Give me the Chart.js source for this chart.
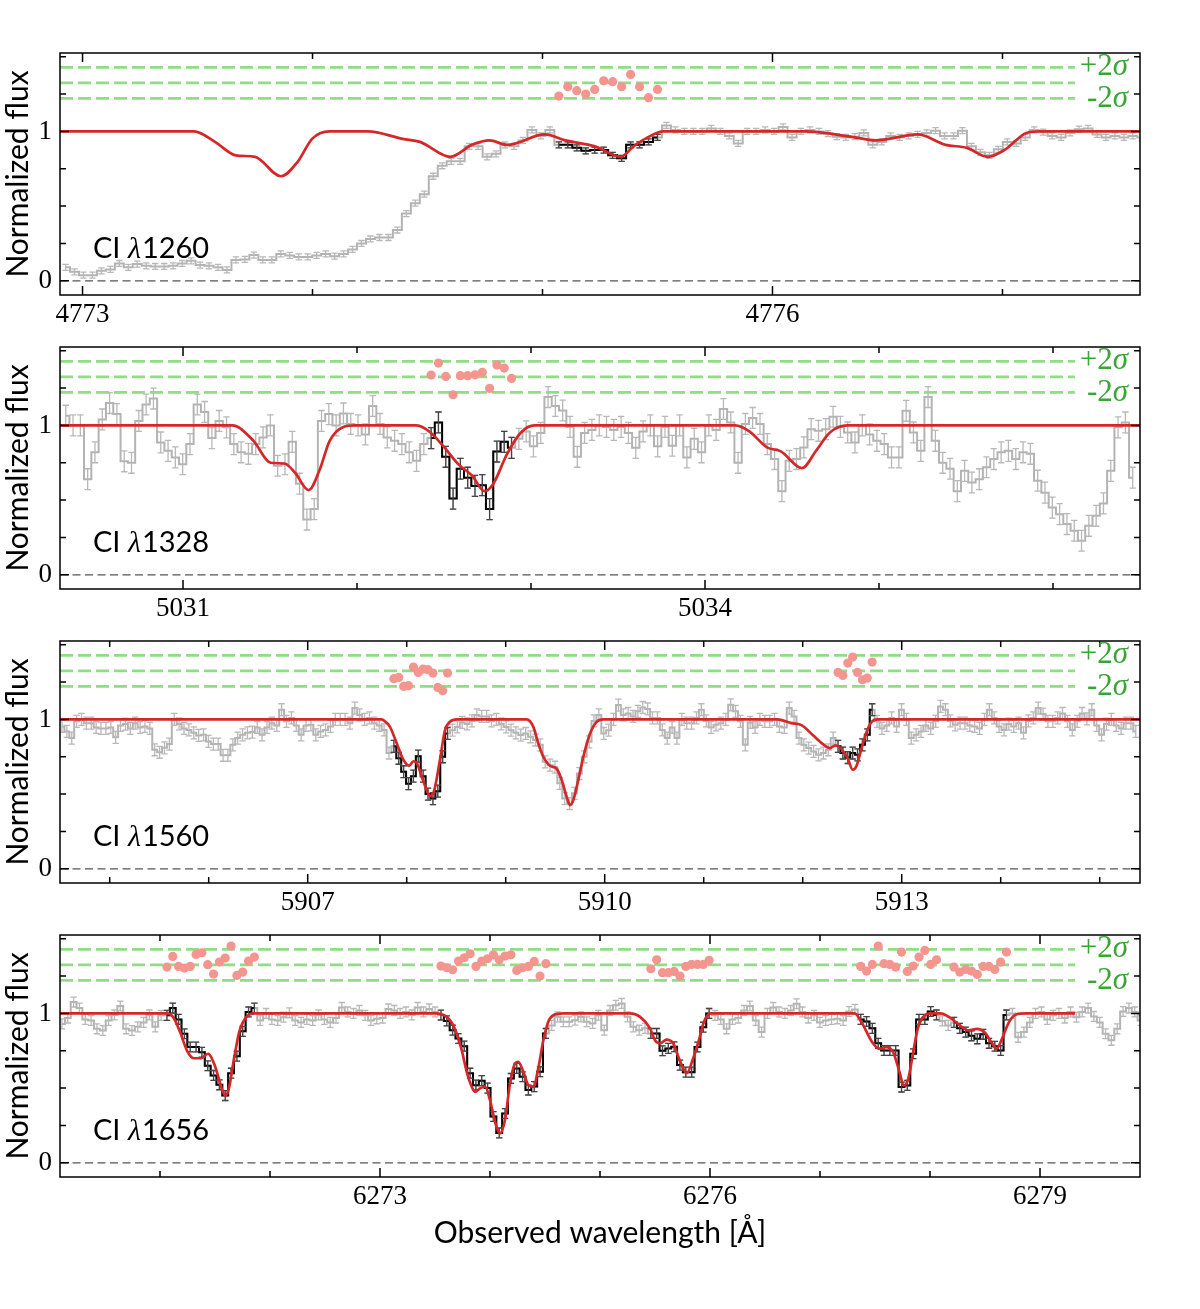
<!DOCTYPE html>
<html lang="en">
<head>
  <meta charset="UTF-8" />
  <title>CI absorption lines</title>
  <script src="https://cdn.jsdelivr.net/npm/chart.js"></script>
  <style>
    body { margin: 0; background: #fff; }
    #page { position: relative; width: 1200px; height: 1309px; }
    .panel { position: absolute; left: 0; width: 1200px; }
  </style>
</head>
<body>
  <div id="page">
    <div class="panel" style="top:40px;height:294px"><canvas id="c1"></canvas></div>
    <div class="panel" style="top:334px;height:294px"><canvas id="c2"></canvas></div>
    <div class="panel" style="top:628px;height:294px"><canvas id="c3"></canvas></div>
    <div class="panel" style="top:922px;height:387px"><canvas id="c4"></canvas></div>
  </div>

  <script>
    // residual strip: centre and 1 sigma (in flux units)
    const RES_CENTER = 1.325;
    const RES_SIGMA = 0.052;
    const Y_RANGE = [-0.095, 1.525];

    // ---------- CI 1260 ----------
    const p1Range = [4772.902, 4777.598];
    const p1WaveStart = 4772.926, p1WaveStep = 0.039;
    const p1Flux = [
      0.09, 0.06, 0.038, 0.038, 0.067, 0.076, 0.116, 0.09, 0.112, 0.1,
      0.096, 0.096, 0.1, 0.116, 0.134, 0.105, 0.1, 0.09, 0.073, 0.14,
      0.143, 0.172, 0.14, 0.14, 0.18, 0.17, 0.16, 0.16, 0.17, 0.18,
      0.165, 0.18, 0.21, 0.25, 0.28, 0.29, 0.29, 0.34, 0.45, 0.52,
      0.58, 0.70, 0.77, 0.80, 0.80, 0.90, 0.90, 0.83, 0.85, 0.91,
      0.90, 0.94, 1.01, 0.97, 1.01,
      0.91, 0.91, 0.89, 0.87, 0.875, 0.875, 0.84, 0.82, 0.91, 0.91, 0.93, 0.96,
      1.04, 1.01, 1.00, 1.00, 1.00, 1.02, 1.00, 0.97, 0.92, 1.00,
      1.00, 1.01, 1.00, 1.03, 0.96, 1.00, 1.01, 1.00, 0.985, 0.965,
      0.96, 0.965, 0.99, 0.91, 0.93, 0.97, 0.96, 0.97, 0.98, 0.99,
      1.005, 0.97, 0.97, 1.005, 0.90, 0.86, 0.84, 0.88, 0.93, 0.92,
      0.96, 1.01, 0.995, 0.97, 0.96, 0.99, 1.015, 1.02, 0.98, 0.96,
      0.97, 0.96, 0.97, 0.96
    ];
    const p1Err = 0.02;
    const p1Fit = [[55, 66]];
    const p1Resid = [[-1.7, -0.5, -1.01, -1.44, -0.84, 0.27, 0.15, -0.5, 1.09, -0.5, -1.91, -0.84]];
    const p1ModelWave = [4772.90, 4773.485, 4773.576, 4773.666, 4773.75, 4773.863, 4773.937, 4773.998, 4774.074,
      4774.24, 4774.392, 4774.467, 4774.60, 4774.693, 4774.77, 4774.846, 4775.01, 4775.10, 4775.228, 4775.34,
      4775.396, 4775.457, 4775.526, 4776.142, 4776.357, 4776.448, 4776.631, 4776.753, 4776.845, 4776.936,
      4777.013, 4777.104, 4777.163, 4777.6];
    const p1ModelFlux = [1.0, 1.0, 0.93, 0.84, 0.83, 0.70, 0.80, 0.95, 1.0,
      1.0, 0.95, 0.93, 0.83, 0.91, 0.94, 0.91, 0.98, 0.94, 0.90, 0.83,
      0.90, 0.96, 1.0, 1.0, 0.96, 0.94, 0.98, 0.91, 0.89, 0.83,
      0.88, 0.99, 1.0, 1.0];
    const p1ResidEnd = 4777.315;

    // ---------- CI 1328 ----------
    const p2Range = [5030.293, 5036.5];
    const p2WaveStart = 5030.326, p2WaveStep = 0.042;
    const p2Flux = [
      1.065, 1.0, 1.0, 0.64, 0.82, 1.04, 1.15, 1.076, 0.76, 0.75,
      1.03, 1.14, 1.18, 0.886, 0.83, 0.786, 0.74, 0.875, 1.14, 1.09,
      0.915, 1.03, 0.987, 0.875, 0.82, 0.81, 0.875, 0.92, 1.0, 0.73,
      0.74, 0.89, 0.61, 0.37, 0.44, 1.03, 1.076, 1.0, 1.08, 1.01,
      1.0, 0.94, 1.13, 1.01, 0.92, 0.897, 0.875, 0.82, 0.763, 0.875,
      0.915, 1.02, 0.79, 0.51, 0.71, 0.65, 0.595, 0.60, 0.44, 0.825, 0.89, 0.85,
      0.91, 0.96, 0.86, 0.95, 1.19, 1.13, 1.10, 0.99, 0.79, 0.95,
      0.97, 1.0, 0.99, 0.97, 0.99, 0.95, 0.85, 0.96, 1.0, 0.86, 0.99,
      0.864, 1.0, 0.786, 0.91, 0.82, 1.0, 0.97, 1.11, 1.02, 0.75,
      1.01, 1.05, 1.01, 0.875, 0.775, 0.56, 0.763, 0.775, 0.853, 0.975,
      0.964, 0.975, 1.058, 0.99, 0.953, 0.886, 1.0, 0.94, 0.897, 0.875,
      0.786, 0.786, 1.098, 0.953, 0.83, 1.19, 0.897, 0.75, 0.71, 0.56,
      0.696, 0.618, 0.64, 0.72, 0.775, 0.82, 0.83, 0.775, 0.82, 0.81,
      0.63, 0.55, 0.45, 0.406, 0.34, 0.295, 0.228, 0.328, 0.395, 0.478,
      0.696, 0.987, 1.02, 0.65
    ];
    const p2Err = 0.07;
    const p2Fit = [[50, 61]];
    const p2Resid = [[0.23, 1.78, 0.06, -2.3, 0.15, 0.15, 0.27, 0.58, -1.48, 1.52, 1.13, -0.2]];
    const p2ModelWave = [5030.29, 5031.283, 5031.403, 5031.503, 5031.583, 5031.643, 5031.722, 5031.783, 5031.843,
      5031.922, 5031.99, 5032.342, 5032.422, 5032.502, 5032.582, 5032.662, 5032.732, 5032.782, 5032.862,
      5032.942, 5033.021, 5034.174, 5034.255, 5034.356, 5034.436, 5034.557, 5034.638, 5034.718, 5034.819, 5036.5];
    const p2ModelFlux = [1.0, 1.0, 0.90, 0.75, 0.745, 0.685, 0.567, 0.696, 0.897,
      0.99, 1.0, 1.0, 0.953, 0.853, 0.741, 0.663, 0.56, 0.607, 0.808,
      0.953, 1.0, 1.0, 0.96, 0.853, 0.826, 0.714, 0.83, 0.953, 1.0, 1.0];
    const p2ResidEnd = 5036.126;

    // ---------- CI 1560 ----------
    const p3Range = [5904.498, 5915.407];
    const p3WaveStart = 5904.518, p3WaveStep = 0.0493;
    const p3Flux = [
      0.953, 0.92, 0.875, 0.987, 1.0, 0.975, 0.975, 0.946, 0.94, 0.94,
      0.946, 0.88, 0.96, 0.969, 0.94, 0.975, 0.946, 0.953, 0.94, 0.797,
      0.78, 0.81, 0.835, 1.0, 0.97, 0.94, 0.93, 0.91, 0.893, 0.897,
      0.853, 0.835, 0.835, 0.76, 0.76, 0.83, 0.875, 0.897, 0.91, 0.915,
      0.946, 0.897, 0.946, 0.975, 0.96, 1.065, 0.987, 1.01, 0.96, 0.897,
      0.96, 0.964, 0.897, 0.92, 0.93, 0.953, 1.0, 1.0, 1.0, 0.975,
      1.076, 1.03, 1.0, 1.01, 0.975, 0.96, 0.93, 0.775,
      0.82, 0.74, 0.65, 0.57, 0.62, 0.754, 0.62, 0.5, 0.47, 0.52, 0.75, 0.906,
      0.928, 0.95, 0.98, 0.97, 0.99, 1.03, 1.02, 1.02, 0.99, 1.0,
      0.97, 0.95, 0.928, 0.91, 0.895, 0.906, 0.884, 0.862, 0.83, 0.716,
      0.694, 0.68, 0.572, 0.47, 0.437, 0.505, 0.638, 0.75, 0.85, 0.99,
      1.03, 0.906, 0.928, 1.0, 1.096, 1.03, 1.04, 1.02,
      1.054, 1.08, 1.07, 1.01, 1.01, 0.93, 0.875, 0.946, 0.875, 1.0,
      0.975, 0.975, 1.01, 1.065, 0.99, 0.946, 0.964, 0.975, 1.0, 1.098,
      1.054, 0.987, 0.83, 0.98, 0.946, 1.0, 0.987, 0.987, 1.0, 0.953,
      0.946, 1.076, 1.02, 0.875, 0.83, 0.808, 0.786, 0.763, 0.775, 0.797,
      0.875,
      0.82, 0.775, 0.745, 0.775, 0.763, 0.83, 0.897, 1.065,
      0.987, 0.94, 0.96, 1.01, 0.953, 1.065, 1.0, 0.875, 0.897, 0.92,
      0.96, 0.94, 0.987, 1.087, 1.065, 0.99, 0.964, 0.975, 0.975, 0.96,
      0.953, 0.94, 1.0, 1.065, 1.01, 0.953, 0.93, 0.969, 0.953, 0.975,
      0.91, 0.99, 1.01, 1.076, 1.036, 0.987, 0.987, 1.01, 1.04, 0.987,
      0.93, 0.987, 1.04, 1.004, 1.065, 0.96, 0.897, 0.969, 1.0, 0.96,
      0.94, 0.975, 0.975, 0.92
    ];
    const p3Err = 0.04;
    const p3Fit = [[68, 79], [159, 166]];
    const p3Resid = [
      [-1.01, -0.84, -2.0, -1.91, 0.49, -0.2, 0.23, 0.15, -0.28, -2.13, -2.56, -0.28],
      [-0.2, -0.58, 1.0, 1.78, -0.2, -1.14, -0.93, 1.13]
    ];
    const p3ModelWave = [5904.498, 5907.747, 5907.764, 5907.831, 5907.899, 5907.966, 5908.026, 5908.067, 5908.101,
      5908.152, 5908.202, 5908.235, 5908.279, 5908.336, 5908.387, 5908.437, 5908.505, 5909.212, 5909.279,
      5909.329, 5909.38, 5909.447, 5909.515, 5909.566, 5909.616, 5909.649, 5909.683, 5909.733, 5909.784,
      5909.852, 5909.919, 5909.986, 5911.744, 5911.886, 5911.992, 5912.099, 5912.205, 5912.276, 5912.329,
      5912.382, 5912.453, 5912.506, 5912.541, 5912.595, 5912.647, 5912.701, 5912.755, 5915.407];
    const p3ModelFlux = [1.0, 1.0, 0.995, 0.95, 0.84, 0.73, 0.69, 0.72, 0.71,
      0.616, 0.527, 0.487, 0.527, 0.73, 0.928, 0.984, 1.0, 1.0, 0.95,
      0.84, 0.75, 0.69, 0.67, 0.594, 0.482, 0.426, 0.46, 0.594, 0.75,
      0.906, 0.984, 1.0, 1.0, 0.975, 0.96, 0.897, 0.835, 0.808, 0.826,
      0.808, 0.741, 0.663, 0.685, 0.808, 0.92, 0.987, 1.0, 1.0];
    const p3ResidEnd = 5914.75;

    // ---------- CI 1656 ----------
    const p4Range = [6270.091, 6279.909];
    const p4WaveStart = 6270.109, p4WaveStep = 0.053;
    const p4Flux = [
      0.93, 0.969, 1.076, 1.036, 0.96, 0.953, 0.897, 0.886, 0.953, 0.99,
      1.05, 0.897, 0.886, 0.91, 0.94, 0.99, 0.91, 0.987,
      0.987, 1.036, 0.96, 0.864, 0.775, 0.775, 0.74, 0.65, 0.585, 0.522,
      0.45, 0.60, 0.714, 0.88, 1.01, 1.036,
      0.953, 1.0, 0.96, 0.953, 0.975, 1.004, 0.953, 0.94, 0.96, 0.953,
      0.99, 0.96, 0.94, 0.969, 1.04, 1.01, 1.0, 1.02, 0.987, 0.953,
      0.964, 0.969, 1.03, 1.02, 1.0, 1.01, 0.99, 1.04, 1.01, 1.03, 1.01,
      0.989, 0.95, 0.888, 0.832, 0.781, 0.60, 0.52, 0.55, 0.50, 0.31,
      0.20, 0.33, 0.565, 0.632, 0.576, 0.487, 0.51, 0.61, 0.866,
      0.92, 0.977, 0.944, 0.944, 0.955, 0.977, 0.944, 0.933, 0.988, 0.888,
      1.02, 1.055, 1.067, 0.977, 0.91, 0.888, 0.9,
      0.866, 0.866, 0.75, 0.766, 0.777, 0.654, 0.607, 0.607, 0.775, 0.908, 1.0,
      0.987, 0.96, 0.897, 0.96, 0.969, 1.02, 1.05, 0.953, 0.875, 1.0,
      1.04, 1.01, 1.0, 1.02, 1.065, 1.01, 0.969, 0.987, 0.94, 0.953,
      0.96, 0.964, 0.953, 1.013, 1.027,
      0.96, 0.946, 0.90, 0.80, 0.752, 0.752, 0.752, 0.507, 0.518, 0.73,
      0.96, 0.96, 1.013, 0.99,
      0.95, 0.92,
      0.94, 0.90, 0.875, 0.85, 0.83, 0.86, 0.80, 0.78, 0.752, 0.99,
      1.0, 0.84, 0.875, 0.94, 1.0, 1.01, 0.96, 0.987, 1.0, 0.969,
      1.01, 0.975, 1.01, 1.036, 0.98, 0.94, 0.864, 0.82, 0.897, 1.013,
      1.036, 1.01, 0.953
    ];
    const p4Err = 0.033;
    const p4Fit = [[18, 33], [65, 83], [101, 111], [137, 150], [153, 162]];
    const p4Resid = [
      [-0.28, 1.09, -0.2, -0.41, -0.2, 1.35, 1.56, 0.02, -1.18, 0.36, 0.88, 2.42, -1.36, -0.93, 0.49, 1.0],
      [-0.15, -0.37, -0.63, 0.49, 0.92, 1.43, -0.2, 0.49, 0.79, 1.3, 0.66, 1.13, 1.3, -0.71, -0.37, -0.2, 0.45, -1.44, 0.15],
      [-0.5, 0.66, -1.01, -1.01, -0.84, -1.44, -0.2, 0.06, 0.06, 0.06, 0.58],
      [-0.2, -0.8, 0.06, 2.42, 0.15, 0.06, -0.28, 1.65, -0.84, -0.15, 1.0, 1.86, 0.06, 0.66],
      [-0.28, -0.93, -0.58, -0.8, -1.23, -0.2, -0.2, -0.58, 0.36, 1.65]
    ];
    const p4ModelWave = [6270.091, 6271.056, 6271.12, 6271.183, 6271.246, 6271.309, 6271.373, 6271.436, 6271.499,
      6271.562, 6271.594, 6271.625, 6271.673, 6271.72, 6271.784, 6271.864, 6273.51, 6273.636, 6273.697,
      6273.743, 6273.788, 6273.834, 6273.864, 6273.909, 6273.955, 6274.0, 6274.045, 6274.091, 6274.136,
      6274.182, 6274.221, 6274.257, 6274.303, 6274.348, 6274.394, 6274.439, 6274.485, 6274.53, 6274.575,
      6274.666, 6275.273, 6275.364, 6275.455, 6275.5, 6275.545, 6275.606, 6275.666, 6275.712, 6275.757,
      6275.79, 6275.847, 6275.895, 6275.943, 6276.006, 6277.315, 6277.378, 6277.474, 6277.537, 6277.601,
      6277.665, 6277.723, 6277.761, 6277.802, 6277.84, 6277.888, 6277.952, 6278.015, 6278.095, 6278.175,
      6278.271, 6278.351, 6278.43, 6278.494, 6278.558, 6278.605, 6278.654, 6278.717, 6278.782, 6278.876, 6279.318];
    const p4ModelFlux = [1.0, 1.0, 0.975, 0.875, 0.75, 0.70, 0.70, 0.73, 0.65,
      0.495, 0.45, 0.495, 0.696, 0.875, 0.975, 1.0, 1.0, 0.955, 0.866,
      0.754, 0.61, 0.509, 0.475, 0.498, 0.509, 0.42, 0.275, 0.197, 0.286,
      0.53, 0.654, 0.676, 0.61, 0.52, 0.509, 0.632, 0.82, 0.944, 0.988,
      1.0, 1.0, 0.977, 0.9, 0.82, 0.799, 0.825, 0.799, 0.71, 0.63,
      0.6, 0.70, 0.81, 0.94, 1.0, 1.0, 0.94, 0.808, 0.763, 0.775,
      0.741, 0.607, 0.518, 0.5625, 0.708, 0.897, 0.987, 1.0, 1.0, 0.975,
      0.92, 0.886, 0.897, 0.875, 0.808, 0.763, 0.83, 0.94, 0.993, 1.0, 1.0];
    const p4ResidEnd = 6279.318;

    // ---------- drawing ----------
    Chart.defaults.font.family = 'Lato';

    function binPoints(start, step, values) {
      return values.map((f, k) => ({ x: start + step * k, y: f }));
    }

    // error bars under each spectrum step
    const errorBars = {
      id: 'errorBars',
      afterDatasetDraw(chart, args) {
        const ds = chart.data.datasets[args.index];
        if (!ds.errorSize) return;
        const { ctx, chartArea: a } = chart;
        const xs = chart.scales.x, ys = chart.scales.y;
        ctx.save();
        ctx.beginPath();
        ctx.rect(a.left, a.top, a.width, a.height);
        ctx.clip();
        ctx.beginPath();
        ctx.strokeStyle = ds.errorColor;
        ctx.lineWidth = 1.3;
        for (const p of ds.data) {
          if (p.y === null) continue;
          const px = xs.getPixelForValue(p.x);
          const hi = ys.getPixelForValue(p.y + ds.errorSize);
          const lo = ys.getPixelForValue(p.y - ds.errorSize);
          ctx.moveTo(px, hi); ctx.lineTo(px, lo);
          ctx.moveTo(px - 3.2, hi); ctx.lineTo(px + 3.2, hi);
          ctx.moveTo(px - 3.2, lo); ctx.lineTo(px + 3.2, lo);
        }
        ctx.stroke();
        ctx.restore();
      }
    };

    // box with inward ticks on all four sides
    const frame = {
      id: 'frame',
      afterDatasetsDraw(chart) {
        const { ctx, chartArea: a } = chart;
        const xs = chart.scales.x, ys = chart.scales.y;
        ctx.save();
        ctx.strokeStyle = '#000';
        ctx.lineWidth = 1.5;
        ctx.strokeRect(a.left, a.top, a.width, a.height);
        ctx.beginPath();
        xs.ticks.forEach(t => {
          const px = xs.getPixelForValue(t.value);
          const len = t.value % 3 === 0 ? 9 : 6;
          ctx.moveTo(px, a.bottom); ctx.lineTo(px, a.bottom - len);
          ctx.moveTo(px, a.top); ctx.lineTo(px, a.top + len);
        });
        ys.ticks.forEach(t => {
          const py = ys.getPixelForValue(t.value);
          const len = (t.value === 0 || t.value === 1) ? 9 : 6;
          ctx.moveTo(a.left, py); ctx.lineTo(a.left + len, py);
          ctx.moveTo(a.right, py); ctx.lineTo(a.right - len, py);
        });
        ctx.stroke();
        ctx.restore();
      }
    };

    const panelText = {
      id: 'panelText',
      afterDraw(chart, args, opts) {
        const { ctx, chartArea: a } = chart;
        const ys = chart.scales.y;
        ctx.save();
        ctx.fillStyle = '#000';
        ctx.textAlign = 'left';
        ctx.textBaseline = 'alphabetic';
        let x = a.left + 33;
        const base = a.top + 205;
        ctx.font = '29px Lato';
        ctx.fillText(opts.ion + ' ', x, base);
        x += ctx.measureText(opts.ion + ' ').width;
        ctx.font = 'italic 30px "Liberation Serif"';
        ctx.fillText('λ', x, base);
        x += ctx.measureText('λ').width + 1;
        ctx.font = '29px Lato';
        ctx.fillText(opts.rest, x, base);

        ctx.fillStyle = '#3aa537';
        ctx.textBaseline = 'middle';
        ctx.textAlign = 'right';
        [['+2', RES_CENTER + 2 * RES_SIGMA], ['-2', RES_CENTER - 2 * RES_SIGMA]].forEach(([sign, v]) => {
          const py = ys.getPixelForValue(v);
          const right = a.right - 12;
          ctx.font = 'italic 31px "Liberation Serif"';
          ctx.fillText('σ', right, py);
          const w = ctx.measureText('σ').width;
          ctx.font = '31px "Liberation Serif"';
          ctx.fillText(sign, right - w, py);
        });
        ctx.restore();
      }
    };

    function makePanel(cfg) {
      const gray = binPoints(cfg.start, cfg.step, cfg.flux);
      const black = [];
      cfg.fit.forEach(([i0, i1]) => {
        for (let k = i0; k <= i1; k++) black.push(gray[k]);
        black.push({ x: gray[i1].x + cfg.step * 0.5, y: null });
      });
      const dots = [];
      cfg.fit.forEach(([i0], r) => {
        cfg.resid[r].forEach((s, j) => dots.push({ x: gray[i0 + j].x, y: RES_CENTER + s * RES_SIGMA }));
      });
      const model = cfg.modelWave.map((w, i) => ({ x: w, y: cfg.modelFlux[i] }));

      const datasets = [
        { data: dots, showLine: false, pointRadius: 4.6, pointBackgroundColor: '#f4968f',
          pointBorderWidth: 0, order: 0 },
        { data: model, borderColor: '#d62728', borderWidth: 2.7, pointRadius: 0,
          cubicInterpolationMode: 'monotone', order: 1 },
        { data: black, borderColor: '#000', borderWidth: 2, pointRadius: 0, stepped: 'middle',
          errorSize: cfg.err, errorColor: '#444', order: 2 },
        { data: gray, borderColor: '#b3b3b3', borderWidth: 2, pointRadius: 0, stepped: 'middle',
          errorSize: cfg.err, errorColor: '#b8b8b8', order: 3 }
      ];
      [2, 0, -2].forEach(n => {
        datasets.push({
          data: [{ x: cfg.range[0], y: RES_CENTER + n * RES_SIGMA }, { x: cfg.residEnd, y: RES_CENTER + n * RES_SIGMA }],
          borderColor: '#90dd86', borderWidth: 2.6, borderDash: [13, 5], pointRadius: 0, order: 4
        });
      });
      datasets.push({
        data: [{ x: cfg.range[0], y: 0 }, { x: cfg.range[1], y: 0 }],
        borderColor: '#555', borderWidth: 1.3, borderDash: [8, 4.5], pointRadius: 0, order: 5
      });

      new Chart(document.getElementById(cfg.id), {
        type: 'line',
        data: { datasets },
        plugins: [errorBars, frame, panelText],
        options: {
          responsive: true,
          maintainAspectRatio: false,
          animation: false,
          layout: { padding: { top: 13, right: 60, left: 0, bottom: 0 } },
          plugins: {
            legend: { display: false },
            tooltip: { enabled: false },
            panelText: { ion: 'CI', rest: cfg.rest }
          },
          scales: {
            x: {
              type: 'linear',
              min: cfg.range[0],
              max: cfg.range[1],
              afterFit: s => { s.height = cfg.axisHeight; s.paddingLeft = 0; s.paddingRight = 0; },
              grid: { display: false, drawTicks: false },
              border: { display: false },
              ticks: {
                stepSize: 1,
                includeBounds: false,
                autoSkip: false,
                maxRotation: 0,
                padding: 4,
                color: '#000',
                font: { family: 'Liberation Serif', size: 27 },
                callback: v => (v % 3 === 0 ? String(v) : '')
              },
              title: {
                display: cfg.showXTitle,
                text: 'Observed wavelength [Å]',
                color: '#000',
                font: { family: 'Lato', size: 30 },
                padding: { top: 0, bottom: 58 }
              }
            },
            y: {
              min: Y_RANGE[0],
              max: Y_RANGE[1],
              afterFit: s => { s.width = 60; s.paddingTop = 0; s.paddingBottom = 0; },
              grid: { display: false, drawTicks: false },
              border: { display: false },
              ticks: {
                stepSize: 0.25,
                includeBounds: false,
                autoSkip: false,
                padding: 8,
                color: '#000',
                font: { family: 'Liberation Serif', size: 27 },
                callback: v => (v === 0 || v === 1 ? String(v) : '')
              },
              title: {
                display: true,
                text: 'Normalized flux',
                color: '#000',
                font: { family: 'Lato', size: 30 },
                padding: { top: 0, bottom: 0 }
              }
            }
          }
        }
      });
    }

    makePanel({ id: 'c1', rest: '1260', range: p1Range, start: p1WaveStart, step: p1WaveStep, flux: p1Flux,
      err: p1Err, fit: p1Fit, resid: p1Resid, modelWave: p1ModelWave, modelFlux: p1ModelFlux,
      residEnd: p1ResidEnd, axisHeight: 39, showXTitle: false });
    makePanel({ id: 'c2', rest: '1328', range: p2Range, start: p2WaveStart, step: p2WaveStep, flux: p2Flux,
      err: p2Err, fit: p2Fit, resid: p2Resid, modelWave: p2ModelWave, modelFlux: p2ModelFlux,
      residEnd: p2ResidEnd, axisHeight: 39, showXTitle: false });
    makePanel({ id: 'c3', rest: '1560', range: p3Range, start: p3WaveStart, step: p3WaveStep, flux: p3Flux,
      err: p3Err, fit: p3Fit, resid: p3Resid, modelWave: p3ModelWave, modelFlux: p3ModelFlux,
      residEnd: p3ResidEnd, axisHeight: 39, showXTitle: false });
    makePanel({ id: 'c4', rest: '1656', range: p4Range, start: p4WaveStart, step: p4WaveStep, flux: p4Flux,
      err: p4Err, fit: p4Fit, resid: p4Resid, modelWave: p4ModelWave, modelFlux: p4ModelFlux,
      residEnd: p4ResidEnd, axisHeight: 132, showXTitle: true });
  </script>
</body>
</html>
